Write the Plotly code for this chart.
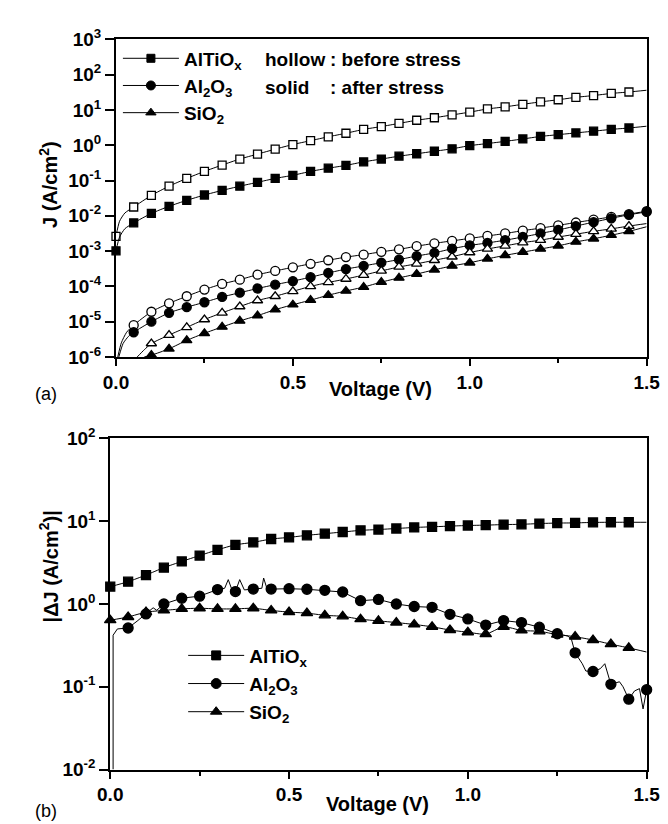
import plotly.graph_objects as go

# ---------------- Panel (a): J-V, before (hollow) / after (solid) stress ----------------
V_ALTIOX = [0.00, 0.05, 0.10, 0.15, 0.20, 0.25, 0.30, 0.35, 0.40, 0.45,
            0.50, 0.55, 0.60, 0.65, 0.70, 0.75, 0.80, 0.85, 0.90, 0.95,
            1.00, 1.05, 1.10, 1.15, 1.20, 1.25, 1.30, 1.35, 1.40, 1.45]
J_ALTIOX_BEFORE = [2.63e-3, 1.78e-2, 3.80e-2, 6.92e-2, 0.115, 0.182, 0.275, 0.407, 0.562, 0.776,
                   1.05, 1.35, 1.74, 2.19, 2.82, 3.39, 4.17, 5.13, 6.03, 7.24,
                   8.71, 10.7, 12.3, 14.5, 17.0, 19.5, 22.9, 25.7, 29.5, 32.4]
J_ALTIOX_AFTER = [1.02e-3, 6.31e-3, 1.17e-2, 1.86e-2, 2.75e-2, 3.89e-2, 5.25e-2, 6.92e-2, 8.91e-2, 0.115,
                  0.141, 0.182, 0.224, 0.269, 0.339, 0.407, 0.490, 0.575, 0.676, 0.794,
                  0.977, 1.12, 1.29, 1.51, 1.78, 2.00, 2.24, 2.51, 2.82, 3.09]

V_AL2O3 = [0.05, 0.10, 0.15, 0.20, 0.25, 0.30, 0.35, 0.40, 0.45, 0.50,
           0.55, 0.60, 0.65, 0.70, 0.75, 0.80, 0.85, 0.90, 0.95, 1.00,
           1.05, 1.10, 1.15, 1.20, 1.25, 1.30, 1.35, 1.40, 1.45, 1.50]
J_AL2O3_BEFORE = [7.94e-6, 1.91e-5, 3.31e-5, 5.25e-5, 8.13e-5, 1.17e-4, 1.55e-4, 2.14e-4, 2.75e-4, 3.47e-4,
                  4.37e-4, 5.50e-4, 6.76e-4, 7.94e-4, 9.55e-4, 1.12e-3, 1.38e-3, 1.66e-3, 1.95e-3, 2.29e-3,
                  2.69e-3, 3.16e-3, 3.80e-3, 4.47e-3, 5.37e-3, 6.46e-3, 7.76e-3, 9.33e-3, 1.12e-2, 1.35e-2]
J_AL2O3_AFTER = [5.01e-6, 1.00e-5, 1.78e-5, 2.57e-5, 3.55e-5, 5.01e-5, 6.61e-5, 8.71e-5, 1.12e-4, 1.41e-4,
                 1.82e-4, 2.40e-4, 3.09e-4, 3.80e-4, 4.68e-4, 5.75e-4, 7.24e-4, 8.91e-4, 1.17e-3, 1.45e-3,
                 1.70e-3, 2.04e-3, 2.51e-3, 3.16e-3, 3.98e-3, 5.13e-3, 6.61e-3, 8.51e-3, 1.07e-2, 1.29e-2]

V_SIO2 = [0.10, 0.15, 0.20, 0.25, 0.30, 0.35, 0.40, 0.45, 0.50, 0.55,
          0.60, 0.65, 0.70, 0.75, 0.80, 0.85, 0.90, 0.95, 1.00, 1.05,
          1.10, 1.15, 1.20, 1.25, 1.30, 1.35, 1.40, 1.45]
J_SIO2_BEFORE = [2.40e-6, 4.17e-6, 6.92e-6, 1.15e-5, 1.78e-5, 2.69e-5, 3.98e-5, 5.25e-5, 7.24e-5, 1.00e-4,
                 1.29e-4, 1.62e-4, 2.09e-4, 2.75e-4, 3.55e-4, 4.37e-4, 5.50e-4, 6.92e-4, 9.12e-4, 1.15e-3,
                 1.41e-3, 1.74e-3, 2.04e-3, 2.51e-3, 3.02e-3, 3.63e-3, 4.27e-3, 5.13e-3]
J_SIO2_AFTER = [1.12e-6, 1.70e-6, 2.95e-6, 4.68e-6, 7.08e-6, 1.05e-5, 1.48e-5, 2.19e-5, 3.02e-5, 4.07e-5,
                5.62e-5, 7.41e-5, 9.55e-5, 1.32e-4, 1.74e-4, 2.24e-4, 2.95e-4, 3.80e-4, 4.68e-4, 6.03e-4,
                7.59e-4, 9.33e-4, 1.15e-3, 1.41e-3, 1.82e-3, 2.24e-3, 2.82e-3, 3.63e-3]

# measured curve points drawn by the line only (no symbol): starts and 1.5 V ends
LV_ALTIOX_BEFORE, LJ_ALTIOX_BEFORE = [0.01, 0.025, 1.50], [7.0e-3, 1.2e-2, 36.3]
LV_ALTIOX_AFTER, LJ_ALTIOX_AFTER = [0.01, 0.025, 1.50], [2.5e-3, 4.3e-3, 3.47]
LV_AL2O3_BEFORE, LJ_AL2O3_BEFORE = [0.005, 0.015, 0.03], [1.0e-6, 2.5e-6, 5.0e-6]
LV_AL2O3_AFTER, LJ_AL2O3_AFTER = [0.008, 0.02, 0.035], [1.0e-6, 2.4e-6, 3.8e-6]
LV_SIO2_BEFORE, LJ_SIO2_BEFORE = [0.06, 0.08, 1.50], [1.0e-6, 1.6e-6, 6.03e-3]
LV_SIO2_AFTER, LJ_SIO2_AFTER = [0.08, 1.50], [1.0e-6, 4.90e-3]

# ---------------- Panel (b): |delta J| ----------------
V_DJ = [0.00, 0.05, 0.10, 0.15, 0.20, 0.25, 0.30, 0.35, 0.40, 0.45,
        0.50, 0.55, 0.60, 0.65, 0.70, 0.75, 0.80, 0.85, 0.90, 0.95,
        1.00, 1.05, 1.10, 1.15, 1.20, 1.25, 1.30, 1.35, 1.40, 1.45]
DJ_ALTIOX = [1.62, 1.86, 2.24, 2.75, 3.27, 3.85, 4.52, 5.19, 5.56, 6.10,
             6.38, 6.76, 7.08, 7.41, 7.76, 7.94, 8.17, 8.41, 8.57, 8.73,
             8.89, 8.97, 9.12, 9.18, 9.38, 9.51, 9.55, 9.68, 9.72, 9.72]
DJ_SIO2 = [0.637, 0.697, 0.798, 0.836, 0.873, 0.889, 0.873, 0.873, 0.889, 0.836,
           0.798, 0.776, 0.730, 0.710, 0.655, 0.625, 0.597, 0.566, 0.531, 0.485,
           0.456, 0.432, 0.531, 0.479, 0.468, 0.427, 0.403, 0.367, 0.327, 0.295]
V_DJ_AL2O3 = [0.05, 0.10, 0.15, 0.20, 0.25, 0.30, 0.35, 0.40, 0.45, 0.50,
              0.55, 0.60, 0.65, 0.70, 0.75, 0.80, 0.85, 0.90, 0.95, 1.00,
              1.05, 1.10, 1.15, 1.20, 1.25, 1.30, 1.35, 1.40, 1.45, 1.50]
DJ_AL2O3 = [0.513, 0.759, 1.00, 1.175, 1.245, 1.496, 1.413, 1.514, 1.514, 1.531,
            1.507, 1.462, 1.396, 1.096, 1.135, 1.00, 0.933, 0.912, 0.750, 0.661,
            0.556, 0.631, 0.596, 0.525, 0.437, 0.257, 0.153, 0.107, 0.0708, 0.0923]

LV_DJ_ALTIOX, LDJ_ALTIOX = [1.50], [9.72]
LV_DJ_SIO2, LDJ_SIO2 = [1.50], [0.263]
LV_DJ_AL2O3 = [0.008, 0.008, 0.02, 0.075, 0.12, 0.13, 0.14, 0.32, 0.33, 0.342, 0.362, 0.375,
               0.424, 0.429, 0.439, 1.28, 1.29, 1.32, 1.33, 1.37, 1.383, 1.424, 1.434, 1.466, 1.48, 1.49]
LDJ_AL2O3 = [0.01, 0.42, 0.50, 0.62, 0.90, 0.84, 0.92, 1.55, 1.97, 1.42, 1.97, 1.48,
             1.55, 2.06, 1.50, 0.41, 0.37, 0.19, 0.155, 0.165, 0.19, 0.115, 0.10, 0.089, 0.095, 0.054]

# ---------------- axis ticks / labels ----------------
X_TICKS = [0.0, 0.5, 1.0, 1.5]
X_TICKTEXT = ["0.0", "0.5", "1.0", "1.5"]
X_MINOR = [0.25, 0.75, 1.25]
YA_TICKS = [1e-6, 1e-5, 1e-4, 1e-3, 1e-2, 1e-1, 1e0, 1e1, 1e2, 1e3]
YA_TICKTEXT = ["10<sup>-6</sup>", "10<sup>-5</sup>", "10<sup>-4</sup>", "10<sup>-3</sup>", "10<sup>-2</sup>",
               "10<sup>-1</sup>", "10<sup>0</sup>", "10<sup>1</sup>", "10<sup>2</sup>", "10<sup>3</sup>"]
YB_TICKS = [1e-2, 1e-1, 1e0, 1e1, 1e2]
YB_TICKTEXT = ["10<sup>-2</sup>", "10<sup>-1</sup>", "10<sup>0</sup>", "10<sup>1</sup>", "10<sup>2</sup>"]

NAMES = ["AlTiO<sub>x</sub>", "Al<sub>2</sub>O<sub>3</sub>", "SiO<sub>2</sub>"]

FONT = "Liberation Sans"
W, H = 668, 824

fig = go.Figure()


def add_series(xa, ya, mv, mj, lv, lj, symbol, filled, size, shape="spline"):
    pts = sorted(zip(list(mv) + list(lv), list(mj) + list(lj)))
    fig.add_trace(go.Scatter(
        x=[p[0] for p in pts], y=[p[1] for p in pts], mode="lines",
        line=dict(color="black", width=1, shape=shape, smoothing=0.6),
        xaxis=xa, yaxis=ya, showlegend=False, hoverinfo="skip"))
    fig.add_trace(go.Scatter(
        x=mv, y=mj, mode="markers", cliponaxis=False,
        marker=dict(symbol=symbol, size=size, color="black" if filled else "white",
                    line=dict(color="black", width=1.3)),
        xaxis=xa, yaxis=ya, showlegend=False))


# panel (a)
add_series("x", "y", V_ALTIOX, J_ALTIOX_BEFORE, LV_ALTIOX_BEFORE, LJ_ALTIOX_BEFORE, "square", False, 8)
add_series("x", "y", V_ALTIOX, J_ALTIOX_AFTER, LV_ALTIOX_AFTER, LJ_ALTIOX_AFTER, "square", True, 8)
add_series("x", "y", V_AL2O3, J_AL2O3_BEFORE, LV_AL2O3_BEFORE, LJ_AL2O3_BEFORE, "circle", False, 9)
add_series("x", "y", V_AL2O3, J_AL2O3_AFTER, LV_AL2O3_AFTER, LJ_AL2O3_AFTER, "circle", True, 9)
add_series("x", "y", V_SIO2, J_SIO2_BEFORE, LV_SIO2_BEFORE, LJ_SIO2_BEFORE, "triangle-up", False, 9)
add_series("x", "y", V_SIO2, J_SIO2_AFTER, LV_SIO2_AFTER, LJ_SIO2_AFTER, "triangle-up", True, 9)

# panel (b)
add_series("x2", "y2", V_DJ, DJ_ALTIOX, LV_DJ_ALTIOX, LDJ_ALTIOX, "square", True, 9)
add_series("x2", "y2", V_DJ_AL2O3, DJ_AL2O3, LV_DJ_AL2O3, LDJ_AL2O3, "circle", True, 10, shape="linear")
add_series("x2", "y2", V_DJ, DJ_SIO2, LV_DJ_SIO2, LDJ_SIO2, "triangle-up", True, 10)

# legend entries: one single-entry legend per row so row spacing matches the figure
legend_common = dict(xanchor="left", yanchor="top", bgcolor="rgba(0,0,0,0)", borderwidth=0,
                     font=dict(family=FONT, size=19, color="black", weight="bold"), itemwidth=56)
legend_layout = {}
rows = (("x", "y", (8, 9, 9), 101, (19, 47, 75)), ("x2", "y2", (9, 10, 10), 169, (634, 663, 692)))
k = 1
for xa, ya, sizes, lx, tops in rows:
    for name, sym, sz, top in zip(NAMES, ("square", "circle", "triangle-up"), sizes, tops):
        leg = "legend" if k == 1 else "legend%d" % k
        fig.add_trace(go.Scatter(
            x=[None], y=[None], mode="lines+markers", name=name, legend=leg,
            line=dict(color="black", width=1),
            marker=dict(symbol=sym, size=sz, color="black", line=dict(color="black", width=1)),
            xaxis=xa, yaxis=ya))
        legend_layout[leg] = dict(legend_common, x=lx / W, y=1 - top / H)
        k += 1

tickfont = dict(family=FONT, size=19, color="black", weight="bold")
axis_common = dict(showline=True, linewidth=2, linecolor="black", mirror=True, showgrid=False,
                   zeroline=False, ticks="outside", tickwidth=2, tickcolor="black", tickfont=tickfont)
xcommon = dict(axis_common, range=[0, 1.5], tickvals=X_TICKS, ticktext=X_TICKTEXT, ticklen=7,
               minor=dict(tickvals=X_MINOR, ticks="outside", ticklen=4, tickwidth=1.5, tickcolor="black"))

fig.update_layout(
    width=W, height=H, margin=dict(l=0, r=0, t=0, b=0),
    paper_bgcolor="white", plot_bgcolor="white",
    xaxis=dict(xcommon, domain=[99 / W, 652 / W], anchor="y"),
    yaxis=dict(axis_common, type="log", range=[-6, 3], tickvals=YA_TICKS, ticktext=YA_TICKTEXT,
               ticklen=9, domain=[1 - 346 / H, 1 - 19 / H], anchor="x"),
    xaxis2=dict(xcommon, domain=[93 / W, 652 / W], anchor="y2"),
    yaxis2=dict(axis_common, type="log", range=[-2, 2], tickvals=YB_TICKS, ticktext=YB_TICKTEXT,
                ticklen=9, domain=[1 - 771 / H, 1 - 430 / H], anchor="x2"),
    showlegend=True,
    **legend_layout,
)

bold = dict(family=FONT, color="black", weight="bold")
ann = [
    dict(text="hollow", x=252 / W, y=1 - 40 / H),
    dict(text=": before stress", x=320 / W, y=1 - 40 / H),
    dict(text="solid", x=252 / W, y=1 - 68 / H),
    dict(text=": after stress", x=320 / W, y=1 - 68 / H),
]
for a in ann:
    fig.add_annotation(text=a["text"], x=a["x"], y=a["y"], xref="paper", yref="paper",
                       xanchor="left", yanchor="middle", showarrow=False,
                       font=dict(bold, size=19))

for txt, x, y in (("Voltage (V)", 375, 379), ("Voltage (V)", 372, 806)):
    fig.add_annotation(text=txt, x=x / W, y=1 - y / H, xref="paper", yref="paper",
                       xanchor="center", yanchor="middle", showarrow=False, font=dict(bold, size=20))
for txt, x, y in (("J (A/cm<sup>2</sup>)", 28, 168), ("|ΔJ (A/cm<sup>2</sup>)|", 29, 562)):
    fig.add_annotation(text=txt, x=x / W, y=1 - y / H, xref="paper", yref="paper", textangle=-90,
                       xanchor="center", yanchor="middle", showarrow=False, font=dict(bold, size=20))
for txt, y in (("(a)", 384), ("(b)", 814)):
    fig.add_annotation(text=txt, x=12 / W, y=1 - y / H, xref="paper", yref="paper",
                       xanchor="left", yanchor="middle", showarrow=False,
                       font=dict(family=FONT, size=18, color="black"))

fig.write_html("out.html")
